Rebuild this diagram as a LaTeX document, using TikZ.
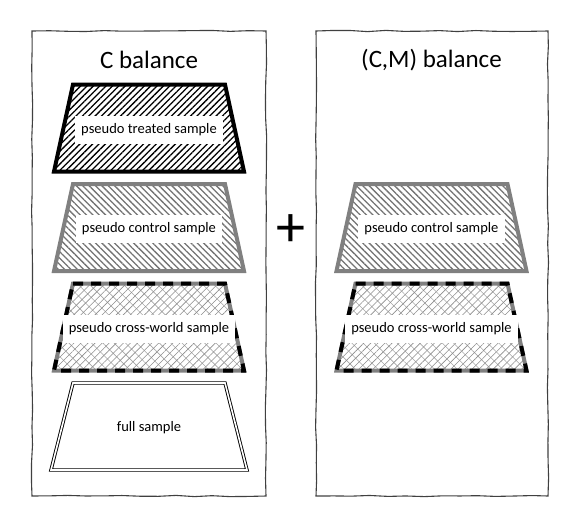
\documentclass[tikz,border=0pt]{standalone}
\usepackage{fontspec}
\setmainfont{Carlito}
\usetikzlibrary{positioning,patterns.meta,decorations.pathmorphing}

% trapezium around a centre coordinate: #1 centre, #2 side slope
\newcommand\trapath[2]{([shift={(-76,43.5)}]#1) -- ++(152,0) -- ++(#2,-87) -- ++({-152-2*#2},0) -- cycle}

\begin{document}
\begin{tikzpicture}[x=1pt,y=1pt,node distance=99.5pt,line join=miter,
  panel/.style={draw=black!75,line width=1.1pt,decorate,decoration={random steps,segment length=18pt,amplitude=0.6pt}},
  treated/.style={draw=black,line width=4pt,pattern={Lines[angle=45,distance=4.5pt,line width=1.3pt]},pattern color=black},
  control/.style={draw=black!50,line width=4pt,pattern={Lines[angle=-45,distance=4.5pt,line width=1.3pt]},pattern color=black!55},
  cross/.style={draw=black!50,line width=4pt,pattern={Lines[angle=45,distance=5pt,line width=.6pt]},pattern color=black!45,
    preaction={pattern={Lines[angle=-45,distance=8pt,line width=.6pt]},pattern color=black!35},
    postaction={draw=black,line width=4pt,dash pattern=on 10pt off 8pt}},
  full/.style={draw=black,line width=.9pt,double=white,double distance=1.6pt},
  lbl/.style={fill=white,inner xsep=6pt,minimum height=28pt,yshift=-1.5pt,font=\fontsize{14.5}{17}\selectfont},
  title/.style={font=\fontsize{25}{30}\selectfont}]
\useasboundingbox (0,0) rectangle (581,-523);
\pgfmathsetseed{7}
% the two panels
\draw[panel] (32,-31) rectangle (266,-496);
\draw[panel] (316,-31) rectangle (548,-496);
\node[title] (titleC) at (149,-60) {C balance};
\node[title] (titleCM) at (431.5,-60) {(C,M) balance};
% centres of the samples
\coordinate (treated) at (149,-128);
\coordinate[below=of treated] (control);
\coordinate[below=of control] (cross);
\coordinate[below=of cross] (full);
\coordinate[right=282.5pt of control] (controlM);
\coordinate[below=of controlM] (crossM);
% left column
\draw[treated] \trapath{treated}{19};
\draw[control] \trapath{control}{19};
\draw[cross] \trapath{cross}{19};
\draw[full] \trapath{full}{22};
% right column
\draw[control] \trapath{controlM}{19};
\draw[cross] \trapath{crossM}{19};
% labels
\node[lbl] (treatedL) at (treated) {pseudo treated sample};
\node[lbl] (controlL) at (control) {pseudo control sample};
\node[lbl] (crossL) at (cross) {pseudo cross-world sample};
\node[lbl] (fullL) at (full) {full sample};
\node[lbl] (controlML) at (controlM) {pseudo control sample};
\node[lbl] (crossML) at (crossM) {pseudo cross-world sample};
\node[font=\fontsize{58}{60}\selectfont,inner sep=0pt] (plus) at (291,-231) {+};
\end{tikzpicture}
\end{document}
